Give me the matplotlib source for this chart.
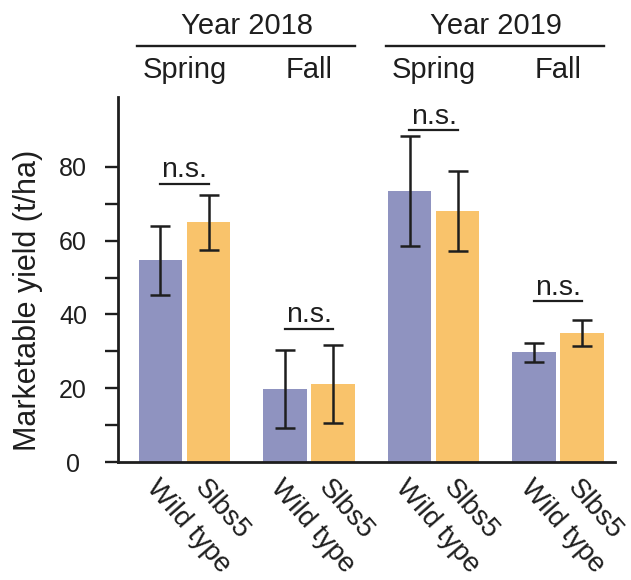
import numpy as np
import matplotlib.pyplot as plt
from matplotlib.transforms import blended_transform_factory

plt.rcParams['font.family'] = ['Liberation Sans', 'DejaVu Sans']

# yield per season (t/ha), mean and error
seasons = ['Spring', 'Fall', 'Spring', 'Fall']
years = ['Year 2018', 'Year 2019']
genotypes = ['Wild type', 'Slbs5']
wt_mean = [54.7, 19.8, 73.4, 29.7]
wt_err = [9.4, 10.7, 14.9, 2.5]
mut_mean = [65.0, 21.1, 68.0, 35.0]
mut_err = [7.5, 10.6, 10.8, 3.5]
ns_level = [75.4, 36.2, 89.9, 43.6]

c_wt = '#8f93c0'
c_mut = '#f9c36b'
ink = '#1e1e1e'

fig = plt.figure(figsize=(6.31, 5.8), dpi=100)
ax = fig.add_axes([0.187, 0.2034, 0.788, 0.6296])

x = np.arange(len(seasons))
off = 0.193
w = 0.35

ax.bar(x - off, wt_mean, w, color=c_wt, zorder=1)
ax.bar(x + off, mut_mean, w, color=c_mut, zorder=1)
ax.errorbar(x - off, wt_mean, yerr=wt_err, fmt='none', ecolor=ink,
            elinewidth=1.8, capsize=7, capthick=1.8, zorder=3)
ax.errorbar(x + off, mut_mean, yerr=mut_err, fmt='none', ecolor=ink,
            elinewidth=1.8, capsize=7, capthick=1.8, zorder=3)

# significance marks
for xi, lv in zip(x, ns_level):
    ax.plot([xi - 0.195, xi + 0.195], [lv, lv], color=ink, lw=1.6)
    ax.text(xi, lv + 1.8, 'n.s.', ha='center', va='baseline', fontsize=20.5,
            color=ink)

ax.set_xlim(-0.534, 3.458)
ax.set_ylim(0, 99)

ax.set_yticks([0, 20, 40, 60, 80])
ax.set_yticks(np.arange(0, 90, 10), minor=True)
ax.tick_params(axis='y', which='both', length=9.4, width=1.7, labelsize=18,
               pad=23, colors=ink)
for lbl in ax.get_yticklabels():
    lbl.set_horizontalalignment('center')

ticks = np.concatenate([[xi - off, xi + off] for xi in x])
ax.set_xticks(ticks)
ax.set_xticklabels(genotypes * len(seasons), rotation=-49, ha='left',
                   va='top', rotation_mode='anchor', fontsize=20)
ax.tick_params(axis='x', length=0, pad=9, colors=ink)

for s in ['top', 'right']:
    ax.spines[s].set_visible(False)
for s in ['left', 'bottom']:
    ax.spines[s].set_linewidth(2.0)
    ax.spines[s].set_color(ink)

# year / season headers above the plot
tr = blended_transform_factory(ax.transData, ax.transAxes)
for i, yr in enumerate(years):
    a, b = x[2 * i], x[2 * i + 1]
    ax.plot([a - 0.38, b + 0.37], [1.14, 1.14], transform=tr, color=ink,
            lw=1.7, clip_on=False)
    ax.text((a + b) / 2, 1.173, yr, transform=tr, ha='center', va='baseline',
            fontsize=21, color=ink)
for xi, s in zip(x, seasons):
    ax.text(xi, 1.052, s, transform=tr, ha='center', va='baseline',
            fontsize=21, color=ink)

fig.text(28 / 631, 1 - 300 / 580, 'Marketable yield (t/ha)', rotation=90,
         ha='center', va='center', fontsize=22, color=ink)

fig.savefig('out.png', dpi=100)
